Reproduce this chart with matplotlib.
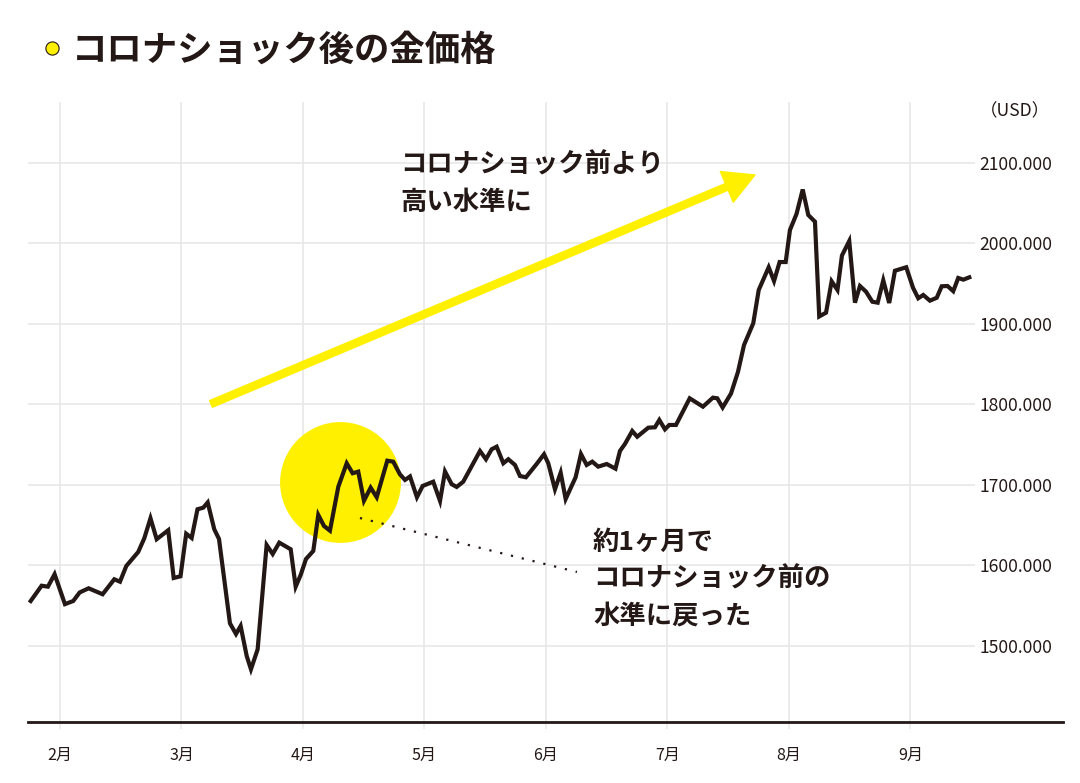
import matplotlib
matplotlib.use("Agg")
import matplotlib.pyplot as plt
from matplotlib.lines import Line2D

plt.rcParams['font.family'] = ['Noto Sans CJK JP', 'DejaVu Sans']

INK = '#231815'
YELLOW = '#fff000'
GRID = '#e8e8e8'

# position in months (2.0 = 1 Feb 2020) and gold price in USD
month_pos = [1.759, 1.849, 1.901, 1.956, 2.041, 2.109, 2.162, 2.236, 2.351, 2.447,
             2.494, 2.546, 2.644, 2.694, 2.745, 2.796, 2.891, 2.936, 2.992, 3.039,
             3.084, 3.132, 3.179, 3.216, 3.270, 3.309, 3.399, 3.449, 3.487, 3.537,
             3.572, 3.627, 3.701, 3.751, 3.805, 3.899, 3.940, 3.981, 4.025, 4.085,
             4.126, 4.173, 4.222, 4.291, 4.360, 4.409, 4.455, 4.502, 4.557, 4.607,
             4.694, 4.743, 4.798, 4.840, 4.881, 4.938, 4.985, 5.072, 5.128, 5.169,
             5.224, 5.265, 5.319, 5.457, 5.506, 5.553, 5.594, 5.649, 5.690, 5.745,
             5.786, 5.835, 5.923, 5.984, 6.019, 6.074, 6.121, 6.162, 6.244, 6.288,
             6.335, 6.381, 6.430, 6.500, 6.572, 6.609, 6.650, 6.710, 6.751, 6.842,
             6.897, 6.933, 6.979, 7.015, 7.070, 7.183, 7.292, 7.374, 7.410, 7.454,
             7.523, 7.580, 7.630, 7.706, 7.751, 7.833, 7.877, 7.923, 7.973, 8.008,
             8.062, 8.113, 8.159, 8.214, 8.249, 8.305, 8.351, 8.399, 8.436, 8.496,
             8.543, 8.584, 8.634, 8.686, 8.730, 8.776, 8.825, 8.872, 8.965, 9.021,
             9.064, 9.105, 9.160, 9.216, 9.257, 9.305, 9.352, 9.393, 9.435, 9.484]
price = [1555.5, 1574.5, 1573.3, 1588.8, 1551.6, 1555.5, 1566.1, 1571.3, 1563.9, 1582.5,
         1579.5, 1599.0, 1616.4, 1633.4, 1658.3, 1632.3, 1643.4, 1584.1, 1586.2, 1639.1,
         1633.8, 1669.5, 1671.4, 1677.9, 1644.6, 1632.6, 1527.8, 1514.5, 1524.5, 1487.2,
         1470.7, 1495.5, 1625.1, 1613.9, 1628.0, 1619.8, 1573.3, 1587.8, 1607.7, 1617.7,
         1662.4, 1648.7, 1642.9, 1697.5, 1726.6, 1714.2, 1716.2, 1680.1, 1696.3, 1684.4,
         1729.8, 1728.6, 1712.9, 1705.9, 1710.2, 1684.4, 1698.4, 1703.7, 1679.8, 1716.4,
         1700.6, 1697.2, 1703.7, 1741.9, 1731.6, 1744.0, 1747.2, 1726.6, 1731.6, 1724.5,
         1710.8, 1709.2, 1725.7, 1737.8, 1726.6, 1694.3, 1714.9, 1682.2, 1709.2, 1738.1,
         1724.5, 1728.6, 1722.4, 1725.7, 1719.9, 1741.9, 1750.6, 1766.7, 1759.6, 1770.8,
         1771.3, 1780.4, 1768.8, 1774.2, 1774.2, 1807.3, 1796.9, 1808.1, 1807.3, 1795.9,
         1813.3, 1840.0, 1873.5, 1900.5, 1941.9, 1970.1, 1953.0, 1976.6, 1976.6, 2016.4,
         2036.3, 2066.7, 2035.0, 2026.7, 1909.0, 1913.7, 1952.7, 1941.9, 1984.7, 2002.7,
         1926.1, 1946.8, 1939.8, 1927.3, 1926.1, 1953.9, 1925.7, 1965.8, 1970.1, 1944.6,
         1931.6, 1935.7, 1928.6, 1932.2, 1946.5, 1946.8, 1940.4, 1956.8, 1954.7, 1957.6]

month_ticks = [2, 3, 4, 5, 6, 7, 8, 9]
month_labels = ['2月', '3月', '4月', '5月', '6月', '7月', '8月', '9月']
usd_ticks = [1500, 1600, 1700, 1800, 1900, 2000, 2100]

W, H = 1080, 783
fig = plt.figure(figsize=(W / 100, H / 100), dpi=100)
ax = fig.add_axes([28 / W, 1 - 722 / H, (975 - 28) / W, (722 - 102) / H])

ax.set_xlim(1.737, 9.531)
ax.set_ylim(1405.2, 2175.4)

# grid
ax.set_xticks(month_ticks)
ax.set_xticklabels(month_labels, fontsize=11.5, color=INK)
ax.set_yticks(usd_ticks)
ax.set_yticklabels(['{:.3f}'.format(v) for v in usd_ticks], fontsize=12.6, color=INK)
ax.yaxis.tick_right()
ax.tick_params(axis='y', length=0, pad=3)
ax.tick_params(axis='x', length=5, width=1.1, color=GRID, pad=13)
ax.grid(True, color=GRID, linewidth=1.2)
ax.set_axisbelow(True)
for s in ax.spines.values():
    s.set_visible(False)
ax.plot([0, (1063 - 28) / (975 - 28)], [0, 0], transform=ax.transAxes,
        color=INK, linewidth=2, clip_on=False, zorder=5)

# highlight circle
ax.scatter([4.305], [1703.4], s=87 ** 2, color=YELLOW, linewidths=0, zorder=2)

# price line
ax.plot(month_pos, price, color=INK, linewidth=3, solid_joinstyle='miter', zorder=4)

# dotted pointer
ax.plot([4.469, 6.255], [1658.6, 1591.6], color=INK, linewidth=1.6,
        linestyle=(0, (1, 4)), zorder=4)

# trend arrow
ax.annotate('', xy=(7.720, 2084.7), xytext=(3.243, 1800.3),
            arrowprops=dict(arrowstyle='simple,head_length=1.1,head_width=1.2,tail_width=0.26',
                            mutation_scale=20, color=YELLOW, shrinkA=0, shrinkB=0),
            zorder=3)

# texts
fig.text(400 / W, 1 - 165 / H, 'コロナショック前より', fontsize=19, fontweight='bold',
         color=INK, ha='left', va='center')
fig.text(400 / W, 1 - 202 / H, '高い水準に', fontsize=19, fontweight='bold',
         color=INK, ha='left', va='center')
for i, line in enumerate(['約1ヶ月で', 'コロナショック前の', '水準に戻った']):
    fig.text(593 / W, 1 - (542 + 37 * i) / H, line, fontsize=19, fontweight='bold',
             color=INK, ha='left', va='center')

fig.text(1015 / W, 1 - 111 / H, '（USD）', fontsize=12.6, color=INK, ha='center', va='center')

# title
fig.add_artist(Line2D([52 / W], [1 - 48 / H], marker='o', markersize=9.5,
                      markerfacecolor=YELLOW, markeredgecolor=INK, markeredgewidth=0.8,
                      transform=fig.transFigure))
fig.text(72 / W, 1 - 50 / H, 'コロナショック後の金価格', fontsize=25.5, fontweight='bold',
         color=INK, ha='left', va='center')

fig.savefig('out.png', dpi=100)
